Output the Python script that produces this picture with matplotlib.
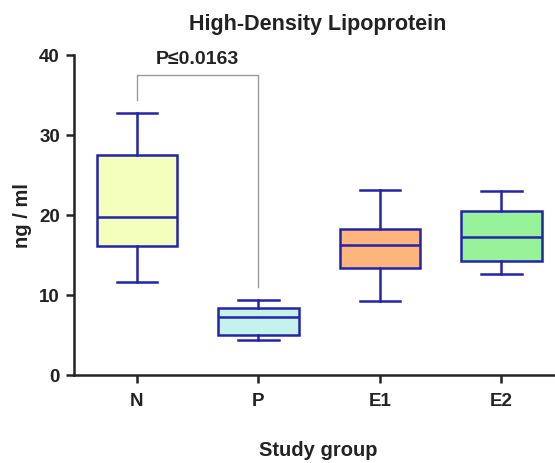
import matplotlib
matplotlib.use("Agg")
import matplotlib.pyplot as plt

plt.rcParams['font.family'] = ['Liberation Sans', 'DejaVu Sans']

groups = ["N", "P", "E1", "E2"]
whislo = [11.6, 4.4, 9.2, 12.6]
q1 = [16.1, 5.0, 13.4, 14.2]
med = [19.75, 7.2, 16.3, 17.3]
q3 = [27.5, 8.4, 18.3, 20.5]
whishi = [32.75, 9.4, 23.1, 23.0]
fills = ["#f4ffbe", "#c6f2ee", "#ffb47e", "#98f29a"]
p_text = "P\u22640.0163"
bracket_y = 37.5
bracket_left_bottom = 34.4
bracket_right_bottom = 11.0

fig = plt.figure(figsize=(5.55, 4.63), dpi=100)
ax = fig.add_axes([0.133, 0.19, 0.88, 0.691])

stats = []
for i, g in enumerate(groups):
    stats.append(dict(label=g, whislo=whislo[i], q1=q1[i], med=med[i],
                      q3=q3[i], whishi=whishi[i], fliers=[]))

edge = "#2424a6"
bp = ax.bxp(stats, positions=range(len(groups)), widths=0.66,
            patch_artist=True, showfliers=False,
            boxprops=dict(edgecolor=edge, linewidth=1.8),
            medianprops=dict(color=edge, linewidth=1.8),
            whiskerprops=dict(color=edge, linewidth=1.8),
            capprops=dict(color=edge, linewidth=1.8),
            capwidths=0.33)
for patch, c in zip(bp['boxes'], fills):
    patch.set_facecolor(c)

# significance bracket
ax.plot([0, 0, 1, 1], [bracket_left_bottom, bracket_y, bracket_y, bracket_right_bottom],
        color="#9a9a9a", linewidth=1.0, clip_on=False)
ax.text(0.5, 38.4, p_text, ha="center", va="bottom", fontsize=14,
        fontweight="bold", color="#222222")

ax.set_xlim(-0.52, 3.5)
ax.set_ylim(0, 40)
ax.set_yticks([0, 10, 20, 30, 40])
ax.set_xticks(range(len(groups)))
ax.set_xticklabels(groups)

for s in ["top", "right"]:
    ax.spines[s].set_visible(False)
for s in ["left", "bottom"]:
    ax.spines[s].set_linewidth(1.8)
    ax.spines[s].set_color("#222222")
ax.tick_params(axis="both", direction="out", length=6, width=1.8,
               color="#222222", labelsize=13.5, labelcolor="#222222")
for lab in ax.get_xticklabels() + ax.get_yticklabels():
    lab.set_fontweight("bold")
ax.tick_params(axis="x", pad=7)
ax.tick_params(axis="y", pad=4)

ax.set_title("High-Density Lipoprotein", fontsize=15.5, fontweight="bold",
             color="#222222", pad=18)
ax.set_ylabel("ng / ml", fontsize=14.5, fontweight="bold", color="#222222", labelpad=5)
ax.set_xlabel("Study group", fontsize=14.5, fontweight="bold", color="#222222", labelpad=22)

fig.savefig("out.png", dpi=100)
